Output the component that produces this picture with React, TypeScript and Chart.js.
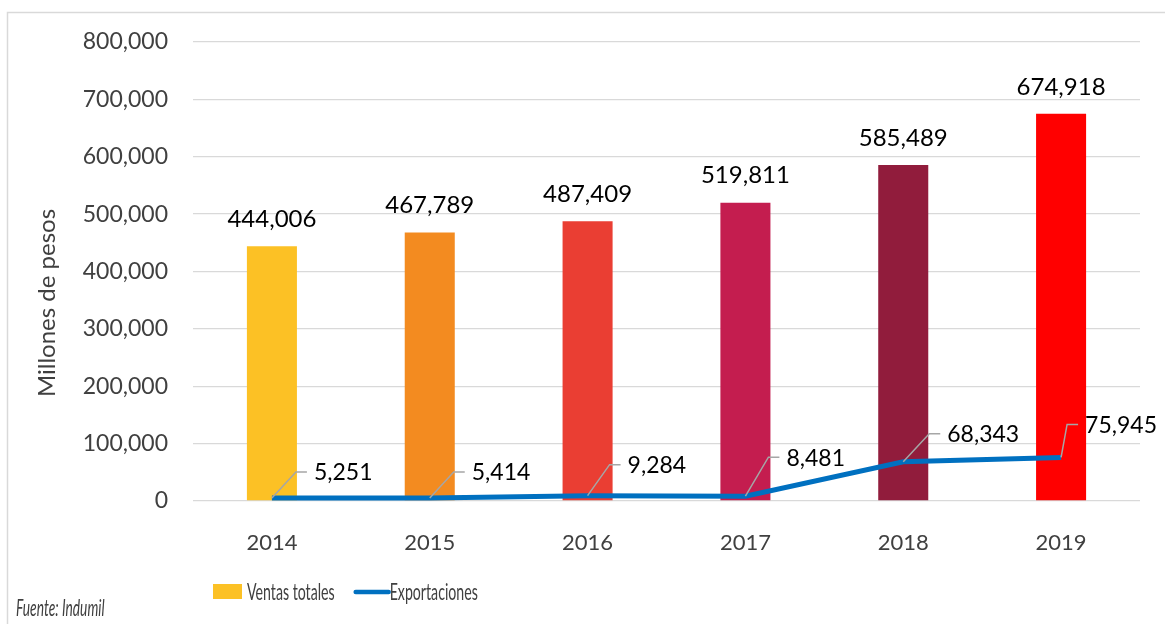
import React, { useEffect, useRef } from 'react';
import { Chart, registerables } from 'chart.js';

Chart.register(...registerables);

const YEARS = ['2014', '2015', '2016', '2017', '2018', '2019'];
const VENTAS = [444006, 467789, 487409, 519811, 585489, 674918];
const EXPORTACIONES = [5251, 5414, 9284, 8481, 68343, 75945];
const BAR_COLORS = ['#FCC125', '#F38B20', '#EA3E33', '#C41D4F', '#911C3C', '#FF0000'];
const LINE_COLOR = '#0070C0';
const SERIES_NAMES = ['Ventas totales', 'Exportaciones'];
const Y_MIN = 0;
const Y_MAX = 800000;
const Y_STEP = 100000;
const Y_TITLE = 'Millones de pesos';
const SOURCE = 'Fuente: Indumil';
// callout leader offsets (dx, dy) for export labels
const CALLOUTS = [
  [24, -26],
  [24, -26],
  [22, -31],
  [23, -39],
  [26, -28],
  [6, -33],
];

const FONT = 'Lato, "Open Sans", sans-serif';
const fmt = (v: number) => v.toLocaleString('en-US');

const labelsPlugin = {
  id: 'customLabels',
  afterDatasetsDraw(chart: any) {
    const ctx = chart.ctx;
    ctx.save();
    // bar labels
    const barMeta = chart.getDatasetMeta(0);
    ctx.font = `24px ${FONT}`;
    ctx.fillStyle = '#000';
    ctx.textAlign = 'center';
    ctx.textBaseline = 'middle';
    barMeta.data.forEach((el: any, i: number) => {
      ctx.fillText(fmt(VENTAS[i]), el.x, el.y - 27);
    });
    // line callouts
    const lineMeta = chart.getDatasetMeta(1);
    ctx.font = `23px ${FONT}`;
    lineMeta.data.forEach((p: any, i: number) => {
      const [dx, dy] = CALLOUTS[i];
      const ex = p.x + dx;
      const ey = p.y + dy;
      ctx.beginPath();
      ctx.moveTo(p.x, p.y);
      ctx.lineTo(ex, ey);
      ctx.lineTo(ex + 11, ey);
      ctx.strokeStyle = '#A6A6A6';
      ctx.lineWidth = 1.5;
      ctx.stroke();
      ctx.textAlign = 'left';
      ctx.fillStyle = '#000';
      ctx.fillText(fmt(EXPORTACIONES[i]), ex + 18, ey + 1);
    });
    ctx.restore();
  },
  afterDraw(chart: any) {
    const ctx = chart.ctx;
    ctx.save();
    // outer frame
    ctx.strokeStyle = '#D9D9D9';
    ctx.lineWidth = 1.5;
    ctx.strokeRect(7.5, 12.5, chart.width + 20, chart.height + 20);

    // y-axis title
    ctx.save();
    ctx.translate(47, 303);
    ctx.rotate(-Math.PI / 2);
    ctx.font = `24px ${FONT}`;
    ctx.fillStyle = '#404040';
    ctx.textAlign = 'center';
    ctx.textBaseline = 'middle';
    ctx.fillText(Y_TITLE, 0, 0);
    ctx.restore();

    // legend (narrow text)
    const sx = 0.59;
    ctx.font = `24px ${FONT}`;
    ctx.textBaseline = 'middle';
    ctx.textAlign = 'left';
    let x = 213;
    const cy = 592;
    const ds = chart.data.datasets;
    ctx.fillStyle = (ds[0].backgroundColor as string[])[0];
    ctx.fillRect(x, 584, 29, 15);
    let tx = x + 34;
    ctx.fillStyle = '#404040';
    ctx.save();
    ctx.translate(tx, cy);
    ctx.scale(sx, 1);
    ctx.fillText(ds[0].label, 0, 0);
    ctx.restore();
    x = tx + ctx.measureText(ds[0].label).width * sx + 21;
    ctx.beginPath();
    ctx.moveTo(x, cy);
    ctx.lineTo(x + 33, cy);
    ctx.strokeStyle = ds[1].borderColor;
    ctx.lineWidth = 4.5;
    ctx.lineCap = 'round';
    ctx.stroke();
    tx = x + 34;
    ctx.save();
    ctx.translate(tx, cy);
    ctx.scale(sx, 1);
    ctx.fillText(ds[1].label, 0, 0);
    ctx.restore();

    // source note
    ctx.font = `italic 23px ${FONT}`;
    ctx.fillStyle = '#404040';
    ctx.save();
    ctx.translate(16, 609);
    ctx.scale(0.6, 1);
    ctx.fillText(SOURCE, 0, 0);
    ctx.restore();
    ctx.restore();
  },
};

export default function App() {
  const ref = useRef<HTMLCanvasElement | null>(null);
  useEffect(() => {
    if (!ref.current) return;
    const chart = new Chart(ref.current, {
      type: 'bar',
      data: {
        labels: YEARS,
        datasets: [
          {
            type: 'bar',
            label: SERIES_NAMES[0],
            data: VENTAS,
            backgroundColor: BAR_COLORS,
            barPercentage: 0.317,
            categoryPercentage: 1,
            order: 1,
          },
          {
            type: 'line',
            label: SERIES_NAMES[1],
            data: EXPORTACIONES,
            borderColor: LINE_COLOR,
            backgroundColor: LINE_COLOR,
            borderWidth: 5,
            pointRadius: 0,
            tension: 0,
            order: 0,
          } as any,
        ],
      },
      options: {
        animation: false,
        responsive: true,
        maintainAspectRatio: false,
        layout: { padding: { top: 42, right: 25, left: 0, bottom: 0 } },
        plugins: {
          legend: { display: false },
          tooltip: { enabled: false },
        },
        scales: {
          x: {
            grid: { display: false },
            border: { display: false },
            ticks: {
              color: '#404040',
              font: { family: FONT, size: 22 },
              padding: 21,
            },
            afterFit: (s: any) => {
              s.height = 123;
            },
          },
          y: {
            min: Y_MIN,
            max: Y_MAX,
            grid: { color: '#D9D9D9', lineWidth: 1.3, drawTicks: false },
            border: { display: false },
            ticks: {
              stepSize: Y_STEP,
              color: '#404040',
              font: { family: FONT, size: 23 },
              padding: 25,
              callback: (v: any) => fmt(Number(v)),
            },
            title: { display: false },
            afterFit: (s: any) => {
              s.width = 193;
            },
          },
        },
      },
      plugins: [labelsPlugin],
    });
    return () => chart.destroy();
  }, []);
  return (
    <div style={{ position: 'absolute', left: 0, top: 0, width: 1165, height: 624, background: '#fff' }}>
      <canvas ref={ref} />
    </div>
  );
}
